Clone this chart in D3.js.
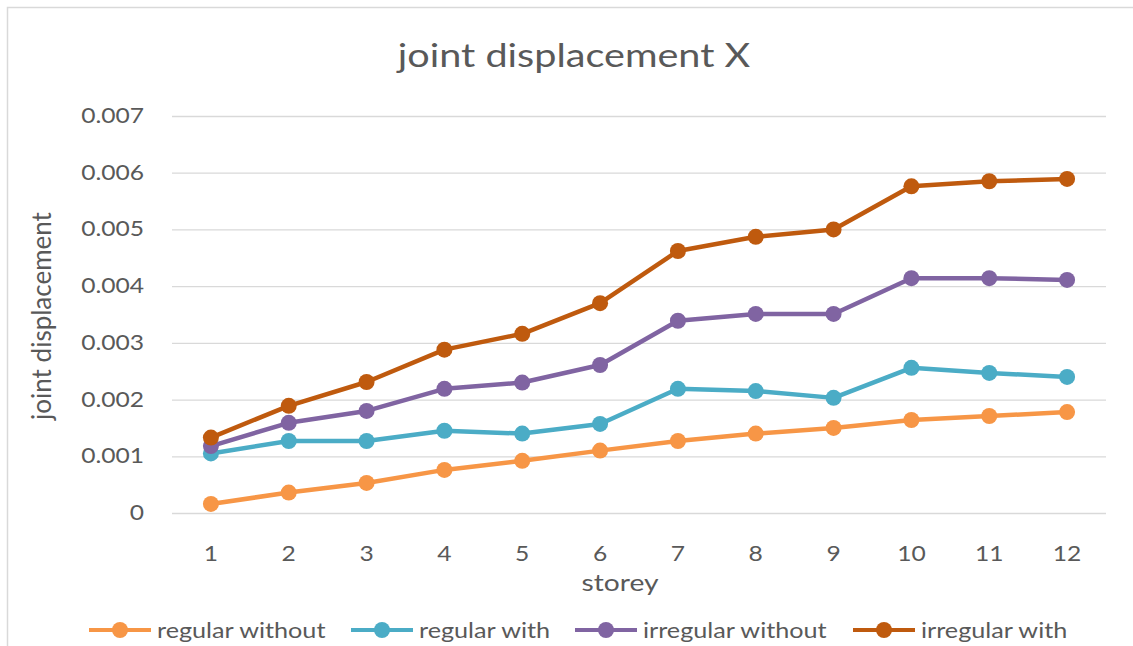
<!DOCTYPE html>
<html>
<head>
<meta charset="utf-8">
<script src="https://cdn.jsdelivr.net/npm/d3@7"></script>
<style>
  body { margin: 0; background: #fff; }
  svg text { font-family: Lato, "Open Sans", sans-serif; fill: #595959; }
</style>
</head>
<body>
<div id="chart"></div>
<script>
// joint displacement X – line chart with markers
const storeys = ["1","2","3","4","5","6","7","8","9","10","11","12"];
const yTicks = [0, 0.001, 0.002, 0.003, 0.004, 0.005, 0.006, 0.007];

const regularWithout   = [0.00016,0.00036,0.00053,0.00076,0.00092,0.0011,0.00127,0.0014,0.0015,0.00164,0.00171,0.00178];
const regularWith      = [0.00105,0.00127,0.00127,0.00145,0.0014,0.00157,0.00219,0.00215,0.00203,0.00256,0.00247,0.0024];
const irregularWithout = [0.00118,0.00159,0.0018,0.00219,0.0023,0.00261,0.00339,0.00351,0.00351,0.00414,0.00414,0.00411];
const irregularWith    = [0.00133,0.00189,0.00231,0.00288,0.00316,0.0037,0.00462,0.00487,0.005,0.00576,0.00585,0.00589];

const seriesNames  = ["regular without","regular with","irregular without","irregular with"];
const seriesColors = ["#F79646","#4BACC6","#8064A2","#BF5A0E"];
const series = [regularWithout, regularWith, irregularWithout, irregularWith].map((v, i) => ({
  name: seriesNames[i], color: seriesColors[i], values: v
}));

const WIDTH = 1133, HEIGHT = 646;
const M = { left: 172, right: 27, top: 116, bottom: 133 };
const W = WIDTH - M.left - M.right;
const H = HEIGHT - M.top - M.bottom;
const SX = 1.2; // the reference text is drawn a bit wide
const TICK_FS = 20.5, AXIS_FS = 23.5, LEG_FS = 21;

// widen a text horizontally around its own anchor point
function stretch(sel) {
  sel.each(function () {
    const t = d3.select(this);
    const tx = +t.attr("x") || 0, ty = +t.attr("y") || 0;
    t.attr("x", 0).attr("y", 0).attr("transform", `translate(${tx},${ty}) scale(${SX},1)`);
  });
}

const svg = d3.select("#chart").append("svg")
  .attr("width", WIDTH).attr("height", HEIGHT);

// outer chart border
svg.append("rect")
  .attr("x", 7.5).attr("y", 7.5).attr("width", 1200).attr("height", 800)
  .attr("fill", "none").attr("stroke", "#d9d9d9").attr("stroke-width", 1.5);

const x = d3.scaleBand().domain(storeys).range([0, W]);
const y = d3.scaleLinear().domain([0, 0.007]).range([H, 0]);

const g = svg.append("g").attr("transform", `translate(${M.left},${M.top})`);

// gridlines + y labels
const gy = g.append("g").call(d3.axisLeft(y).tickValues(yTicks).tickSize(-W).tickPadding(28)
  .tickFormat(d => d === 0 ? "0" : d3.format(".3f")(d)));
gy.select(".domain").remove();
gy.selectAll("line").attr("stroke", "#d9d9d9").attr("stroke-width", 1.3);

// x labels
const gx = g.append("g").attr("transform", `translate(0,${H})`)
  .call(d3.axisBottom(x).tickSize(0).tickPadding(33));
gx.select(".domain").remove();

svg.selectAll("g").attr("font-family", null).attr("font-size", null);
g.selectAll(".tick text").attr("font-size", TICK_FS).attr("fill", "#595959").call(stretch);

// lines and markers
const line = d3.line().x((d, i) => x(storeys[i]) + x.bandwidth() / 2).y(d => y(d));
series.forEach(s => {
  g.append("path").datum(s.values)
    .attr("d", line).attr("fill", "none")
    .attr("stroke", s.color).attr("stroke-width", 4.5).attr("stroke-linejoin", "round");
  g.selectAll(null).data(s.values).join("circle")
    .attr("cx", (d, i) => x(storeys[i]) + x.bandwidth() / 2)
    .attr("cy", d => y(d))
    .attr("r", 8).attr("fill", s.color);
});

// titles
svg.append("text").attr("x", 574).attr("y", 67).attr("text-anchor", "middle")
  .attr("font-size", 33).text("joint displacement X").call(stretch);
svg.append("text").attr("transform", "translate(51,316) rotate(-90)")
  .attr("text-anchor", "middle").attr("font-size", 26).text("joint displacement");
svg.append("text").attr("x", 620).attr("y", 591).attr("text-anchor", "middle")
  .attr("font-size", AXIS_FS).text("storey").call(stretch);

// legend
const legendX = [89, 351, 575, 853];
const leg = svg.append("g").selectAll("g").data(series).join("g")
  .attr("transform", (d, i) => `translate(${legendX[i]},630)`);
leg.append("line").attr("x1", 0).attr("x2", 62).attr("y1", 0).attr("y2", 0)
  .attr("stroke", d => d.color).attr("stroke-width", 4);
leg.append("circle").attr("cx", 31).attr("cy", 0).attr("r", 8).attr("fill", d => d.color);
leg.append("text").attr("x", 68).attr("y", 8).attr("font-size", LEG_FS).text(d => d.name).call(stretch);
</script>
</body>
</html>
